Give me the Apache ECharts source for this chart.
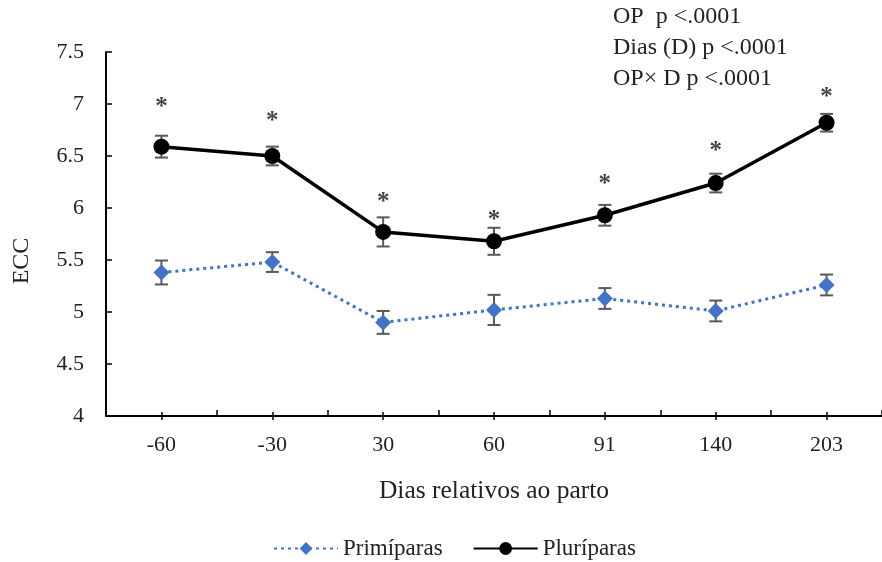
<!DOCTYPE html>
<html lang="pt">
<head>
    <meta charset="UTF-8">
    <title>ECC</title>
    <script src="https://cdn.jsdelivr.net/npm/echarts@6/dist/echarts.min.js"></script>
    <style>
        body{
            padding: 0px;
            margin: 0px;
            background-color: #fff;
        }
        #chart{
            width: 882px;
            height: 562px;
        }
    </style>
</head>
<body>
    <div id="chart"></div>
    <script>
        // dados
        var dias = ['-60', '-30', '30', '60', '91', '140', '203'];
        var primiparas = [5.38, 5.48, 4.90, 5.02, 5.13, 5.01, 5.26];
        var primiparasErro = [0.115, 0.095, 0.11, 0.145, 0.10, 0.10, 0.10];
        var pluriparas = [6.59, 6.50, 5.77, 5.68, 5.93, 6.24, 6.82];
        var pluriparasErro = [0.105, 0.09, 0.14, 0.13, 0.10, 0.09, 0.085];
        // posição dos asteriscos
        var asteriscos = [6.97, 6.83, 6.05, 5.88, 6.23, 6.54, 7.06];
        var anotacoes = ['OP  p <.0001', 'Dias (D) p <.0001', 'OP\u00d7 D p <.0001'];

        var fonte = '"Liberation Serif", "Times New Roman", serif';
        var corTexto = '#222';

        function barras(valores, erros) {
            return valores.map(function (v, i) {
                return [i, v - erros[i], v + erros[i]];
            });
        }

        function renderErro(params, api) {
            var x = api.value(0);
            var lo = api.coord([x, api.value(1)]);
            var hi = api.coord([x, api.value(2)]);
            var w = 6.5;
            var estilo = { stroke: '#595959', lineWidth: 2 };
            return {
                type: 'group',
                children: [
                    { type: 'line', shape: { x1: lo[0], y1: lo[1], x2: hi[0], y2: hi[1] }, style: estilo },
                    { type: 'line', shape: { x1: lo[0] - w, y1: lo[1], x2: lo[0] + w, y2: lo[1] }, style: estilo },
                    { type: 'line', shape: { x1: hi[0] - w, y1: hi[1], x2: hi[0] + w, y2: hi[1] }, style: estilo }
                ]
            };
        }

        function eixoTicks(alinhado, dentro, tam) {
            return {
                type: 'category',
                data: dias,
                position: 'bottom',
                axisLine: { show: false },
                axisLabel: { show: false },
                axisTick: {
                    show: true,
                    alignWithLabel: alinhado,
                    inside: dentro,
                    length: tam,
                    lineStyle: { color: '#000', width: 1.5 }
                }
            };
        }

        var chart = echarts.init(document.getElementById('chart'));

        var textos = anotacoes.map(function (t, i) {
            return {
                type: 'text',
                left: 613,
                top: 5 + i * 31,
                style: { text: t, font: '24px ' + fonte, fill: corTexto }
            };
        });
        textos.push({
            type: 'text',
            x: 22,
            y: 261,
            rotation: Math.PI / 2,
            style: {
                text: 'ECC',
                font: '24px ' + fonte,
                fill: corTexto,
                align: 'center',
                verticalAlign: 'middle'
            }
        });

        chart.setOption({
            animation: false,
            grid: { left: 106, top: 52, width: 784, height: 364 },
            graphic: textos,
            legend: {
                data: ['Primíparas', 'Pluríparas'],
                left: 268,
                top: 532,
                itemWidth: 64,
                itemHeight: 16,
                itemGap: 30,
                textStyle: { fontFamily: fonte, fontSize: 23, color: corTexto }
            },
            xAxis: [
                {
                    type: 'category',
                    data: dias,
                    name: 'Dias relativos ao parto',
                    nameLocation: 'middle',
                    nameGap: 62,
                    nameTextStyle: { fontFamily: fonte, fontSize: 25.5, color: corTexto },
                    axisLine: { lineStyle: { color: '#000', width: 2 } },
                    axisTick: { length: 6, lineStyle: { color: '#000', width: 1.5 } },
                    axisLabel: { fontFamily: fonte, fontSize: 22, color: corTexto, margin: 18 }
                },
                eixoTicks(false, true, 6),
                eixoTicks(true, false, 4),
                eixoTicks(true, true, 4)
            ],
            yAxis: {
                type: 'value',
                min: 4,
                max: 7.5,
                interval: 0.5,
                splitLine: { show: false },
                axisLine: { show: true, lineStyle: { color: '#000', width: 2 } },
                axisTick: { show: true, inside: true, length: 6, lineStyle: { color: '#000', width: 1.5 } },
                axisLabel: { fontFamily: fonte, fontSize: 22, color: corTexto, margin: 22 }
            },
            series: [
                {
                    name: 'erroPrim',
                    type: 'custom',
                    renderItem: renderErro,
                    data: barras(primiparas, primiparasErro),
                    z: 1
                },
                {
                    name: 'erroPluri',
                    type: 'custom',
                    renderItem: renderErro,
                    data: barras(pluriparas, pluriparasErro),
                    z: 1
                },
                {
                    name: 'Primíparas',
                    type: 'line',
                    data: primiparas,
                    symbol: 'diamond',
                    symbolSize: 16,
                    itemStyle: { color: '#4472C4' },
                    lineStyle: { color: '#4472C4', width: 3, type: [3, 4] },
                    z: 2
                },
                {
                    name: 'Pluríparas',
                    type: 'line',
                    data: pluriparas,
                    symbol: 'circle',
                    symbolSize: 16,
                    itemStyle: { color: '#000' },
                    lineStyle: { color: '#000', width: 3.5 },
                    z: 3
                },
                {
                    name: 'asteriscos',
                    type: 'scatter',
                    data: asteriscos.map(function (v, i) { return [i, v]; }),
                    symbolSize: 2,
                    itemStyle: { color: 'rgba(0,0,0,0)' },
                    silent: true,
                    z: 4,
                    label: {
                        show: true,
                        position: 'inside',
                        formatter: '*',
                        fontFamily: fonte,
                        fontWeight: 'bold',
                        fontSize: 25,
                        color: '#111'
                    }
                }
            ]
        });
    </script>
</body>
</html>
